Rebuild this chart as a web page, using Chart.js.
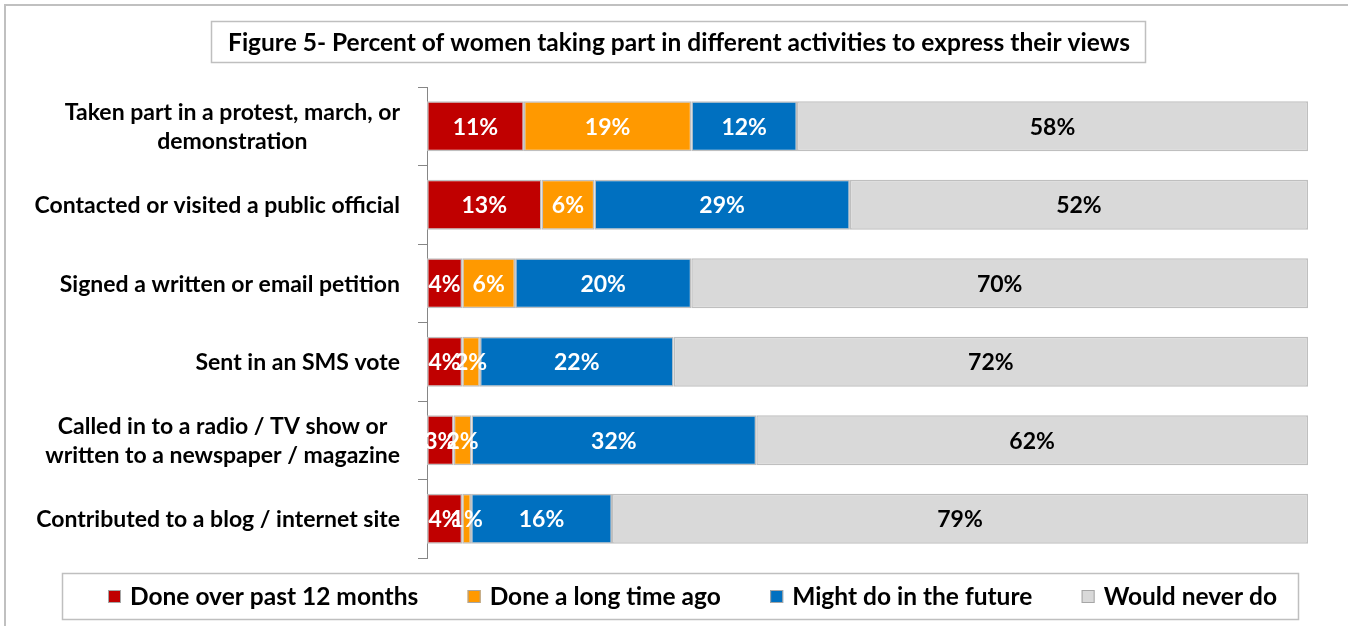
<!DOCTYPE html>
<html>
<head>
<meta charset="utf-8">
<script src="https://cdn.jsdelivr.net/npm/chart.js@4"></script>
<style>
  body { margin: 0; background: #fff; }
  #wrap { position: relative; width: 1348px; height: 626px; }
</style>
</head>
<body>
<div id="wrap"><canvas id="grafica"></canvas></div>
<script>
const titulo = 'Figure 5- Percent of women taking part in different activities to express their views';

const categorias = [
  ['Taken part in a protest, march, or', 'demonstration'],
  'Contacted or visited a public official',
  'Signed a written or email petition',
  'Sent in an SMS vote',
  ['Called in to a radio / TV show or', 'written to a newspaper / magazine'],
  'Contributed to a blog / internet site',
];

const series = ['Done over past 12 months', 'Done a long time ago', 'Might do in the future', 'Would never do'];

const hecho12Meses = [11, 13, 4, 4, 3, 4];
const hechoHaceTiempo = [19, 6, 6, 2, 2, 1];
const quizaFuturo = [12, 29, 20, 22, 32, 16];
const nuncaHaria = [58, 52, 70, 72, 62, 79];

const colores = ['#C00000', '#FF9900', '#0070C0', '#D9D9D9'];
const coloresTexto = ['#fff', '#fff', '#fff', '#000'];
const FUENTE = 'Lato, "Open Sans", sans-serif';

const valores = [hecho12Meses, hechoHaceTiempo, quizaFuturo, nuncaHaria];
// barras al 100% (como en Excel): se normaliza por el total de cada fila
const totales = categorias.map((_, i) => valores.reduce((s, arr) => s + arr[i], 0));

const datasets = valores.map((arr, k) => ({
  label: series[k],
  data: arr.map((v, i) => v / totales[i] * 100),
  raw: arr,
  backgroundColor: colores[k],
  borderColor: '#BFBFBF',
  borderWidth: 1.5,
  borderSkipped: false,
  barPercentage: 0.64,
  categoryPercentage: 1,
}));

const plugDibujo = {
  id: 'plugDibujo',
  beforeDraw(chart) {
    const ctx = chart.ctx;
    ctx.save();
    ctx.fillStyle = '#fff';
    ctx.fillRect(0, 0, chart.width, chart.height);
    // marco exterior
    ctx.strokeStyle = '#C0C0C0';
    ctx.lineWidth = 2;
    ctx.strokeRect(5, 5, chart.width + 20, chart.height + 20);
    ctx.restore();
  },
  afterDatasetsDraw(chart) {
    const ctx = chart.ctx;
    ctx.save();

    // etiquetas de datos
    ctx.font = 'bold 23px ' + FUENTE;
    ctx.textAlign = 'center';
    ctx.textBaseline = 'middle';
    chart.data.datasets.forEach((ds, k) => {
      const meta = chart.getDatasetMeta(k);
      meta.data.forEach((bar, i) => {
        const p = bar.getProps(['x', 'y', 'base'], true);
        ctx.fillStyle = coloresTexto[k];
        ctx.fillText(ds.raw[i] + '%', (p.x + p.base) / 2, p.y + 1);
      });
    });

    // etiquetas de categorias (centradas entre si, alineadas a la derecha)
    const y = chart.scales.y;
    ctx.fillStyle = '#000';
    ctx.font = 'bold 23px ' + FUENTE;
    categorias.forEach((cat, i) => {
      const lineas = Array.isArray(cat) ? cat : [cat];
      const anchoMax = Math.max(...lineas.map(l => ctx.measureText(l).width));
      const cx = 400 - anchoMax / 2;
      const cy = y.getPixelForValue(i);
      const alto = 29;
      lineas.forEach((l, j) => {
        ctx.fillText(l, cx, cy + 1 + (j - (lineas.length - 1) / 2) * alto);
      });
    });

    // titulo con recuadro
    ctx.font = 'bold 24.5px ' + FUENTE;
    ctx.fillText(titulo, 679, 43);
    ctx.strokeStyle = '#BFBFBF';
    ctx.lineWidth = 1.5;
    ctx.strokeRect(211.5, 21.5, 934, 41);

    // leyenda con recuadro
    ctx.strokeRect(62.5, 573.5, 1236, 46);
    ctx.font = 'bold 24.5px ' + FUENTE;
    ctx.textAlign = 'left';
    const anchos = series.map(s => 22 + ctx.measureText(s).width);
    const hueco = (1277 - 108 - anchos.reduce((a, b) => a + b, 0)) / (series.length - 1);
    let x = 108;
    series.forEach((s, k) => {
      ctx.fillStyle = colores[k];
      ctx.fillRect(x, 590, 13, 13);
      ctx.strokeStyle = '#A6A6A6';
      ctx.lineWidth = 1;
      ctx.strokeRect(x + 0.5, 590.5, 12, 12);
      ctx.fillStyle = '#000';
      ctx.fillText(s, x + 22, 597);
      x += anchos[k] + hueco;
    });
    ctx.restore();
  },
};

new Chart(document.getElementById('grafica'), {
  type: 'bar',
  data: { labels: categorias, datasets },
  options: {
    indexAxis: 'y',
    responsive: true,
    maintainAspectRatio: false,
    animation: false,
    layout: { padding: { top: 87, bottom: 68, left: 0, right: 40 } },
    scales: {
      x: {
        stacked: true,
        min: 0,
        max: 100,
        display: false,
      },
      y: {
        stacked: true,
        afterFit(scale) { scale.width = 427; },
        border: { display: true, color: '#868686', width: 1 },
        grid: {
          display: true,
          drawOnChartArea: false,
          drawTicks: true,
          tickLength: 9,
          color: '#868686',
          offset: true,
        },
        ticks: { display: false },
      },
    },
    plugins: {
      legend: { display: false },
      title: { display: false },
      tooltip: { enabled: false },
    },
  },
  plugins: [plugDibujo],
});
</script>
</body>
</html>
